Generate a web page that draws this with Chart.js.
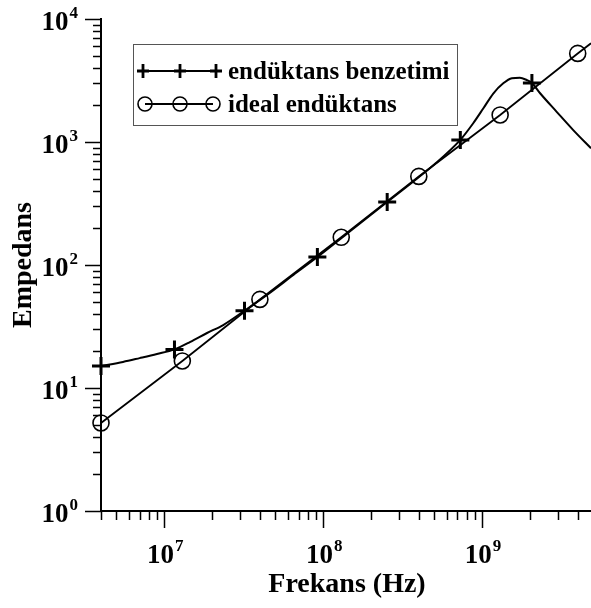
<!DOCTYPE html>
<html><head><meta charset="utf-8">
<script src="https://cdn.jsdelivr.net/npm/chart.js@4"></script>
<style>html,body{margin:0;padding:0;background:#fff;overflow:hidden}canvas{display:block}</style>
</head><body>
<canvas id="c" width="591" height="608"></canvas>
<script>
// Simulated inductor impedance vs frequency (Hz -> ohm)
const simFreq = [4.0e6, 5.5e6, 7.0e6, 9.0e6, 1.16e7, 1.46e7, 1.86e7, 2.35e7, 3.2e7, 4.5e7,
                 6.5e7, 9.2e7, 1.4e8, 2.0e8, 2.53e8, 3.5e8, 5.0e8, 7.3e8, 8.8e8, 1.02e9,
                 1.18e9, 1.36e9, 1.54e9, 1.73e9, 1.91e9, 2.06e9, 2.32e9, 2.95e9, 3.75e9, 4.85e9];
const simZ = [15.1, 16.3, 17.5, 18.9, 20.6, 23.7, 28.0, 32.5, 42.5, 58,
              83, 116, 178, 256, 325, 452, 655, 1040, 1420, 1880,
              2490, 3000, 3300, 3330, 3190, 3020, 2490, 1760, 1250, 890];
const simMarkerIdx = [0, 4, 8, 11, 14, 17, 25];

// Ideal inductor impedance
const idealFreq = [4.0e6, 1.3e7, 4.0e7, 1.3e8, 4.0e8, 1.3e9, 4.0e9, 4.85e9];
const idealZ = [5.2, 16.6, 52.5, 168, 525, 1660, 5250, 6350];
const idealMarkerIdx = [0, 1, 2, 3, 4, 5, 6];

const seriesNames = ['endüktans benzetimi', 'ideal endüktans'];
const xTitle = 'Frekans (Hz)';
const yTitle = 'Empedans';
const xDecadeLabels = [7, 8, 9];
const yDecadeLabels = [0, 1, 2, 3, 4];

const SERIF = "'Liberation Serif', 'Times New Roman', serif";

function toPoints(xs, ys) { return xs.map((v, i) => ({ x: v, y: ys[i] })); }

function drawPow(ctx, exp, x, y, align) {
  // draws "10" with a raised exponent; align: 'center' or 'right'
  ctx.font = 'bold 27px ' + SERIF;
  const wBase = ctx.measureText('10').width;
  ctx.font = 'bold 17px ' + SERIF;
  const wExp = ctx.measureText(String(exp)).width;
  const total = wBase + 1 + wExp;
  const left = align === 'center' ? x - total / 2 : x - total;
  ctx.textAlign = 'left';
  ctx.textBaseline = 'alphabetic';
  ctx.font = 'bold 27px ' + SERIF;
  ctx.fillText('10', left, y);
  ctx.font = 'bold 17px ' + SERIF;
  ctx.fillText(String(exp), left + wBase + 1, y - 12);
}

const axisDecor = {
  id: 'axisDecor',
  afterDraw(chart) {
    const { ctx, chartArea: a, scales: { x, y } } = chart;
    ctx.save();
    ctx.strokeStyle = '#000';
    ctx.fillStyle = '#000';
    ctx.lineWidth = 1.5;
    ctx.beginPath();
    // x-axis ticks (outward, below)
    for (let e = 6; e <= 9; e++) {
      for (let m = 1; m <= 9; m++) {
        const v = m * Math.pow(10, e);
        if (v < x.min * 0.999 || v > x.max * 1.001) continue;
        const px = Math.round(x.getPixelForValue(v)) + 0.5;
        const len = m === 1 ? 17 : 9;
        ctx.moveTo(px, a.bottom);
        ctx.lineTo(px, a.bottom + len);
      }
    }
    // y-axis ticks (outward, left)
    for (let e = 0; e <= 4; e++) {
      for (let m = 1; m <= 9; m++) {
        const v = m * Math.pow(10, e);
        if (v < y.min * 0.999 || v > y.max * 1.001) continue;
        const py = Math.round(y.getPixelForValue(v)) + 0.5;
        const len = m === 1 ? 16 : 8;
        ctx.moveTo(a.left, py);
        ctx.lineTo(a.left - len, py);
      }
    }
    ctx.stroke();

    // tick labels
    xDecadeLabels.forEach(e => drawPow(ctx, e, x.getPixelForValue(Math.pow(10, e)) + 1, a.bottom + 52, 'center'));
    yDecadeLabels.forEach(e => drawPow(ctx, e, 78, y.getPixelForValue(Math.pow(10, e)) + 11, 'right'));

    // axis titles
    ctx.font = 'bold 28px ' + SERIF;
    ctx.textAlign = 'center';
    ctx.textBaseline = 'alphabetic';
    ctx.fillText(xTitle, (a.left + a.right) / 2 + 1, 592);
    ctx.save();
    ctx.translate(31, (a.top + a.bottom) / 2);
    ctx.rotate(-Math.PI / 2);
    ctx.fillText(yTitle, 0, 0);
    ctx.restore();

    // legend
    ctx.lineWidth = 1;
    ctx.strokeStyle = '#555';
    ctx.strokeRect(133.5, 44.5, 324, 81);
    ctx.strokeStyle = '#000';
    // row 1: line with crosses
    ctx.lineWidth = 2.2;
    ctx.beginPath(); ctx.moveTo(143, 71); ctx.lineTo(216, 71); ctx.stroke();
    ctx.lineWidth = 2.8;
    [143, 180, 216].forEach(cx => {
      ctx.beginPath();
      ctx.moveTo(cx - 6, 71); ctx.lineTo(cx + 6, 71);
      ctx.moveTo(cx, 64); ctx.lineTo(cx, 78);
      ctx.stroke();
    });
    // row 2: line with circles
    ctx.lineWidth = 1.8;
    ctx.beginPath(); ctx.moveTo(145, 104); ctx.lineTo(213, 104); ctx.stroke();
    ctx.lineWidth = 1.6;
    [145, 180, 213].forEach(cx => {
      ctx.beginPath(); ctx.arc(cx, 104, 7, 0, Math.PI * 2); ctx.stroke();
    });
    ctx.font = 'bold 25px ' + SERIF;
    ctx.textAlign = 'left';
    ctx.fillText(seriesNames[0], 228, 79);
    ctx.fillText(seriesNames[1], 228, 112);
    ctx.restore();
  }
};

new Chart(document.getElementById('c'), {
  type: 'line',
  data: {
    datasets: [
      {
        label: seriesNames[0],
        data: toPoints(simFreq, simZ),
        borderColor: '#000',
        borderWidth: 2,
        cubicInterpolationMode: 'monotone',
        pointStyle: 'cross',
        pointRadius: c => simMarkerIdx.includes(c.dataIndex) ? 9 : 0,
        pointBorderWidth: 3,
        pointBorderColor: '#000',
        clip: false
      },
      {
        label: seriesNames[1],
        data: toPoints(idealFreq, idealZ),
        borderColor: '#000',
        borderWidth: 1.8,
        tension: 0,
        pointStyle: 'circle',
        pointRadius: c => idealMarkerIdx.includes(c.dataIndex) ? 8 : 0,
        pointBorderWidth: 1.6,
        pointBorderColor: '#000',
        pointBackgroundColor: 'rgba(0,0,0,0)',
        clip: false
      }
    ]
  },
  options: {
    responsive: false,
    animation: false,
    devicePixelRatio: 1,
    events: [],
    layout: { autoPadding: false, padding: { left: 101, right: 0, top: 19, bottom: 97 } },
    plugins: { legend: { display: false }, tooltip: { enabled: false } },
    scales: {
      x: {
        type: 'logarithmic', min: 4e6, max: 4.85e9,
        ticks: { display: false },
        grid: { display: false, drawTicks: false },
        border: { display: true, color: '#000', width: 2 }
      },
      y: {
        type: 'logarithmic', min: 1, max: 1e4,
        ticks: { display: false },
        grid: { display: false, drawTicks: false },
        border: { display: true, color: '#000', width: 2 }
      }
    }
  },
  plugins: [axisDecor]
});
</script>
</body></html>
